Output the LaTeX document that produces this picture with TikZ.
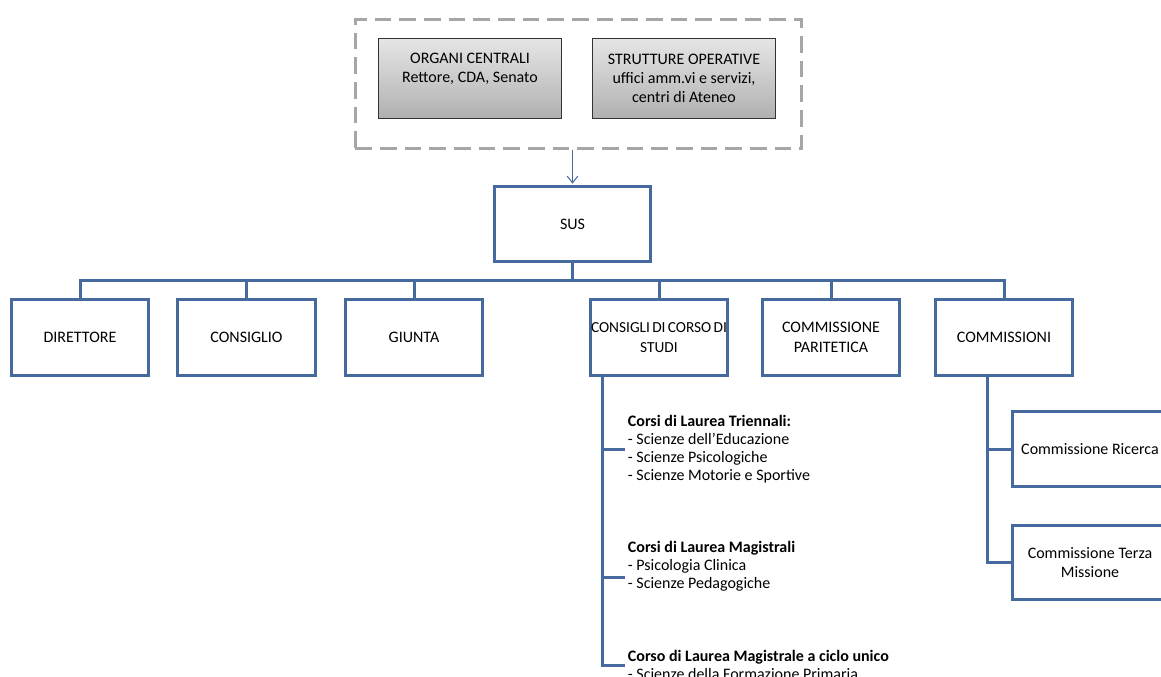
\documentclass[tikz,border=0pt]{standalone}
\usepackage{fontspec}
\setmainfont{Carlito}
\usetikzlibrary{arrows.meta}
\definecolor{susblue}{RGB}{70,106,158}
\definecolor{dashgray}{RGB}{166,166,166}
\newcommand\spaziostretto{\spaceskip=0.15em plus 0.05em\relax}
\begin{document}
\begin{tikzpicture}[x=0.75pt, y=-0.75pt,
    every node/.style={font=\fontsize{12}{14.5}\selectfont},
    unit/.style={draw=susblue, line width=2.25pt, fill=white, minimum width=103pt, minimum height=57pt, align=center, inner sep=2pt},
    organo/.style={draw=black!80, line width=0.8pt, top color=gray!20, bottom color=gray!62, minimum width=137pt, minimum height=60pt, align=center, inner sep=2pt},
    link/.style={draw=susblue, line width=2.25pt},
    elenco/.style={anchor=west, align=left, inner sep=2pt, font=\fontsize{12}{13.5}\selectfont}]
    \useasboundingbox (0,0) rectangle (1161,676);
    \clip (0,0) rectangle (1161,676);

    % livello di Ateneo
    \node [draw=dashgray, line width=2.25pt, dash pattern=on 12.5pt off 6pt, minimum width=335pt, minimum height=97pt] (ateneo) at (578.5,84) {};
    \node [organo] (organi) at (470,78.5) {\begin{tabular}{@{}c@{}}ORGANI CENTRALI\\Rettore, CDA, Senato\\[14pt]\end{tabular}};
    \node [organo] (strutture) at (684,78.5) {STRUTTURE OPERATIVE\\uffici amm.vi e servizi,\\centri di Ateneo};

    % SUS e organi della scuola
    \node [unit, minimum width=117pt, minimum height=56pt] (sus) at (572.5,224) {SUS};
    \draw [susblue, line width=0.75pt, -{Straight Barb[length=5pt,width=8pt]}, shorten >=1.2pt] (ateneo.south -| sus) -- (sus.north);

    \coordinate (bus) at (572.5,280);
    \node [unit] (direttore) at (80,337.5) {DIRETTORE};
    \node [unit] (consiglio) at (246.5,337.5) {CONSIGLIO};
    \node [unit] (giunta) at (414,337.5) {GIUNTA};
    \node [unit, inner xsep=0pt, font=\fontsize{11.5}{14.5}\selectfont\spaziostretto] (cds) at (659,337.5) {CONSIGLI DI CORSO DI\\STUDI};
    \node [unit] (paritetica) at (831,337.5) {COMMISSIONE\\PARITETICA};
    \node [unit] (commissioni) at (1004,337.5) {COMMISSIONI};
    \draw [link] (sus.south) -- (bus);
    \foreach \n in {direttore,consiglio,giunta,cds,paritetica,commissioni}
        \draw [link] (bus) -| (\n.north);

    % corsi di studio
    \node [elenco] (triennali) at (625,449) {\textbf{Corsi di Laurea Triennali:}\\- Scienze dell’Educazione\\- Scienze Psicologiche\\- Scienze Motorie e Sportive};
    \node [elenco] (magistrali) at (625,566) {\textbf{Corsi di Laurea Magistrali}\\- Psicologia Clinica\\- Scienze Pedagogiche};
    \node [elenco] (ciclounico) at (625,665) {\textbf{Corso di Laurea Magistrale a ciclo unico}\\- Scienze della Formazione Primaria};
    \draw [link] (cds.south west) ++(14,0) |- (triennali.west);
    \draw [link] (cds.south west) ++(14,0) |- ([yshift=-8.25pt]magistrali.west);
    \draw [link] (cds.south west) ++(14,0) |- (ciclounico.west);

    % commissioni
    \node [unit, minimum width=117pt, minimum height=56pt] (ricerca) at (1090,449) {Commissione Ricerca};
    \node [unit, minimum width=117pt, minimum height=56pt] (terza) at (1090,562.5) {Commissione Terza\\Missione};
    \draw [link] (commissioni.south west) ++(53.5,0) |- (ricerca.west);
    \draw [link] (commissioni.south west) ++(53.5,0) |- (terza.west);
\end{tikzpicture}
\end{document}
